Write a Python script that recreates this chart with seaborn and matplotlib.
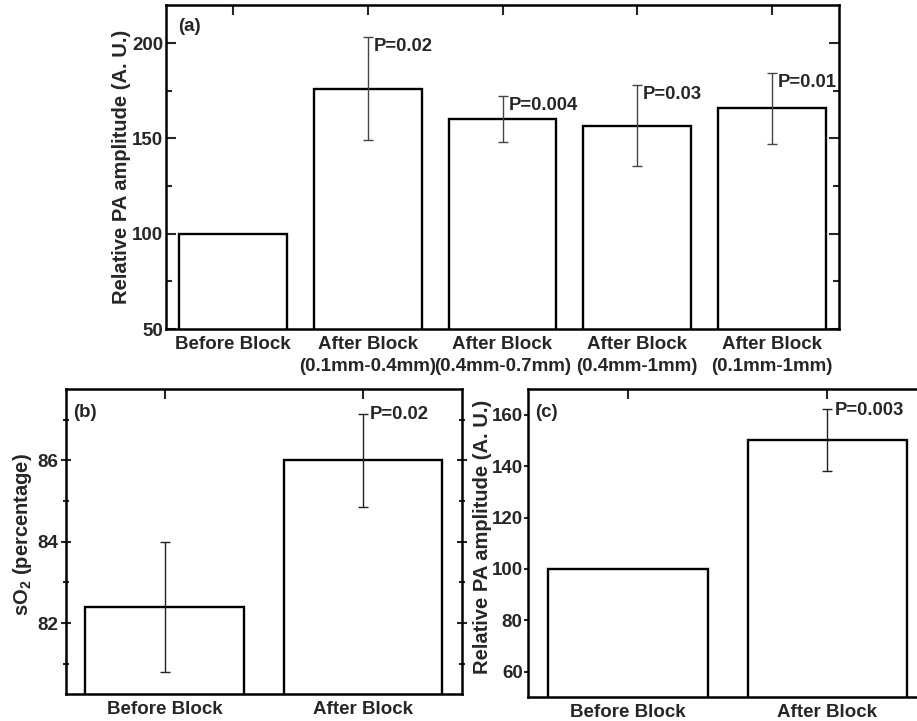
import matplotlib
matplotlib.use("Agg")
import matplotlib.pyplot as plt
from matplotlib.ticker import MultipleLocator, FixedLocator
import seaborn as sns
import pandas as pd

# ---------------- data ----------------
a_categories = ['Before Block', 'After Block\n(0.1mm-0.4mm)', 'After Block\n(0.4mm-0.7mm)',
                'After Block\n(0.4mm-1mm)', 'After Block\n(0.1mm-1mm)']
a_values = [100, 176, 160, 156.7, 165.7]
a_errors = [0, 27, 12, 21.3, 18.4]
a_pvalues = ['', 'P=0.02', 'P=0.004', 'P=0.03', 'P=0.01']

b_categories = ['Before Block', 'After Block']
b_values = [82.4, 86.0]
b_errors = [1.6, 1.15]
b_pvalues = ['', 'P=0.02']

c_categories = ['Before Block', 'After Block']
c_values = [100, 150.2]
c_errors = [0, 12]
c_pvalues = ['', 'P=0.003']

# ---------------- style ----------------
sns.set_style('ticks')
plt.rcParams['font.family'] = ['Liberation Sans', 'DejaVu Sans']
plt.rcParams['font.weight'] = 'bold'
plt.rcParams['axes.labelweight'] = 'bold'
plt.rcParams['mathtext.fontset'] = 'custom'
plt.rcParams['mathtext.rm'] = 'Liberation Sans:bold'
plt.rcParams['mathtext.bf'] = 'Liberation Sans:bold'
plt.rcParams['mathtext.it'] = 'Liberation Sans:bold'

W, H = 917, 721
fig = plt.figure(figsize=(W / 100, H / 100), dpi=100)

def px_axes(left, top, right, bottom):
    return fig.add_axes([left / W, (H - bottom) / H, (right - left) / W, (bottom - top) / H])

ax_a = px_axes(166, 5, 839, 329)
ax_b = px_axes(65.7, 389.3, 461.7, 694.3)
ax_c = px_axes(528.3, 389.3, 927.1, 697.3)

FS = 13.5
LABEL_FS = 14.5
P_FS = 13.3
SPINE_LW = 1.8
BAR_LW = 1.7


def draw_panel(ax, cats, vals, errs, pvals, ylim, ylabel, label, major, minor,
               err_color, p_offset, label_xy, left_dir='in', right=True, xlabel_pad=5,
               linespacing=1.2, ylen=7, ypad=2):
    df = pd.DataFrame({'cat': cats, 'val': vals})
    sns.barplot(data=df, x='cat', y='val', order=cats, ax=ax, color='white',
                edgecolor='black', linewidth=BAR_LW, width=0.8, errorbar=None,
                saturation=1)
    for i, (v, e) in enumerate(zip(vals, errs)):
        if e > 0:
            ax.errorbar(i, v, yerr=e, fmt='none', ecolor=err_color, elinewidth=1.0,
                        capsize=3.5, capthick=1.0, zorder=5)
    for i, (v, e, p) in enumerate(zip(vals, errs, pvals)):
        if p:
            ax.annotate(p, xy=(i, v + e), xytext=p_offset, textcoords='offset pixels',
                        ha='left', va='center', fontsize=P_FS, fontweight='bold')
    ax.set_xlim(-0.5, len(cats) - 0.5)
    ax.set_ylim(*ylim)
    ax.set_xlabel('')
    ax.set_ylabel(ylabel, fontsize=LABEL_FS, fontweight='bold', va='center')
    ax.yaxis.set_label_coords(*label_xy)
    ax.yaxis.set_major_locator(FixedLocator(major))
    if minor is not None:
        ax.yaxis.set_minor_locator(MultipleLocator(minor))
    for s in ax.spines.values():
        s.set_visible(True)
        s.set_linewidth(SPINE_LW)
        s.set_color('black')
    ax.tick_params(axis='x', which='major', direction='in', length=7, width=1.5,
                   top=True, bottom=True, labelsize=FS, pad=xlabel_pad)
    ax.tick_params(axis='y', which='major', direction=left_dir, length=ylen, width=1.5,
                   left=True, right=right, labelsize=FS, pad=ypad)
    ax.tick_params(axis='y', which='minor', direction=left_dir, length=4.5, width=1.5,
                   left=True, right=right)
    for t in ax.get_xticklabels():
        t.set_fontweight('bold')
        t.set_linespacing(linespacing)
    for t in ax.get_yticklabels():
        t.set_fontweight('bold')
    ax.text(0.018, 0.935 if label == '(a)' else 0.925, label, transform=ax.transAxes,
            ha='left', va='center', fontsize=FS, fontweight='bold')


draw_panel(ax_a, a_categories, a_values, a_errors, a_pvalues, (50, 220),
           'Relative PA amplitude (A. U.)', '(a)', [50, 100, 150, 200], 25,
           '#444444', (6, -9), (-0.066, 0.5), linespacing=1.42)
draw_panel(ax_b, b_categories, b_values, b_errors, b_pvalues, (80.25, 87.75),
           r'sO$_{2}$ (percentage)', '(b)', [82, 84, 86], 1,
           '#222222', (7, -1), (-0.108, 0.525), left_dir='inout')
draw_panel(ax_c, c_categories, c_values, c_errors, c_pvalues, (50, 170),
           'Relative PA amplitude (A. U.)', '(c)', [60, 80, 100, 120, 140, 160], None,
           '#222222', (7, -1), (-0.114, 0.52), left_dir='out', right=False,
           ylen=3, ypad=1)

fig.savefig('out.png', dpi=100)
